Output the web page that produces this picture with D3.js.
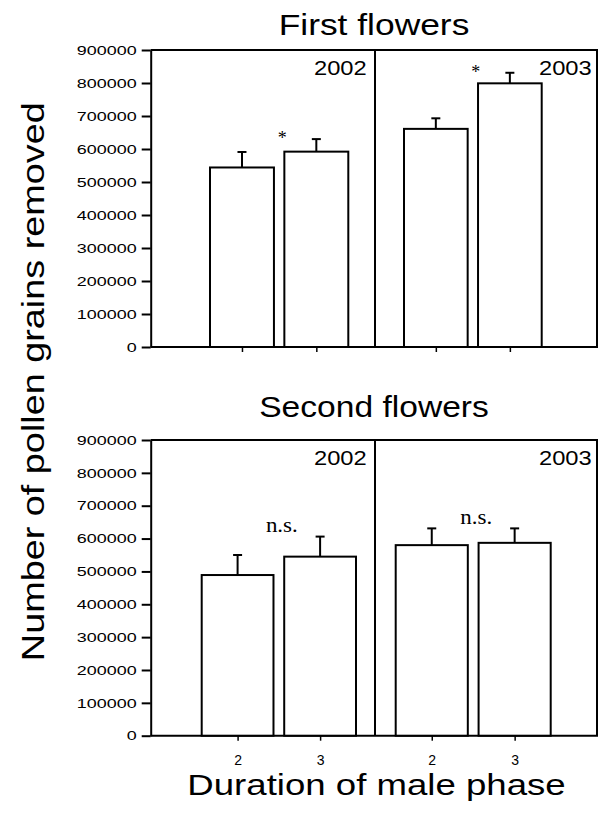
<!DOCTYPE html>
<html>
<head>
<meta charset="utf-8">
<script src="https://cdn.jsdelivr.net/npm/d3@7"></script>
<style>
  html, body { margin: 0; padding: 0; background: #fff; }
  svg { display: block; }
</style>
</head>
<body>
<svg id="chart" width="604" height="814"></svg>
<script>
// ---------------- data ----------------
const years = ["2002", "2003"];
const durations = ["2", "3"];
const yTickValues = [0, 100000, 200000, 300000, 400000, 500000, 600000, 700000, 800000, 900000];

// order: 2002-2, 2002-3, 2003-2, 2003-3
const firstMeans   = [544000, 592000, 661000, 799000];
const firstErrors  = [ 47000,  38000,  32000,  32000];
const firstSig     = ["*", "*"];

const secondMeans  = [489000, 545000, 580000, 587000];
const secondErrors = [ 61000,  61000,  51000,  44000];
const secondSig    = ["n.s.", "n.s."];

// ---------------- layout ----------------
const SANS = "'Liberation Sans', Arial, Helvetica, sans-serif";
const SERIF = "'Liberation Serif', 'Times New Roman', serif";
const svg = d3.select("#chart");

const axisX = 150.7, rightX = 597, sepX = 375;

const panels = [
  { title: "First flowers", titleY: 35, titleSx: 1.18, top: 50, bottom: 347,
    means: firstMeans, errors: firstErrors, sig: firstSig,
    ranges: { "2002": [210, 348.3], "2003": [404, 541.7] }, pad: 0.14,
    showXLabels: false },
  { title: "Second flowers", titleY: 417, titleSx: 1.12, top: 440, bottom: 735.7,
    means: secondMeans, errors: secondErrors, sig: secondSig,
    ranges: { "2002": [201.7, 356], "2003": [395.7, 550.7] }, pad: 0.13,
    showXLabels: true }
];

function stretchText(g, x, y, str, size, sx, anchor, family, rotate) {
  return g.append("text")
    .attr("transform", `translate(${x},${y})` + (rotate ? ` rotate(${rotate})` : "") + ` scale(${sx},1)`)
    .attr("text-anchor", anchor)
    .style("font-family", family)
    .style("font-size", size + "px")
    .attr("fill", "#000")
    .text(str);
}

panels.forEach(p => {
  const g = svg.append("g");
  const y = d3.scaleLinear().domain([0, 900000]).range([p.bottom, p.top]);

  const bands = {};
  years.forEach(yr => {
    bands[yr] = d3.scaleBand().domain(durations).range(p.ranges[yr]).paddingInner(p.pad).paddingOuter(0);
  });
  const rows = [];
  years.forEach((yr, i) => durations.forEach((du, j) => {
    const k = i * 2 + j;
    rows.push({ key: yr + "-" + du, year: yr, dur: du, mean: p.means[k], err: p.errors[k],
      x0: bands[yr](du), w: bands[yr].bandwidth() });
  }));
  rows.forEach(r => r.cx = r.x0 + r.w / 2);

  // title
  stretchText(g, 374, p.titleY, p.title, 30, p.titleSx, "middle", SANS);

  // frame
  const frame = g.append("g").attr("stroke", "#000").attr("stroke-width", 2).attr("fill", "none");
  frame.append("path").attr("d", `M${axisX},${p.top}H${rightX}V${y(0)}H${axisX}`);
  frame.append("line").attr("x1", sepX).attr("x2", sepX).attr("y1", p.top).attr("y2", y(0));

  // bars
  g.append("g").selectAll("rect").data(rows).join("rect")
    .attr("x", d => d.x0).attr("width", d => d.w)
    .attr("y", d => y(d.mean)).attr("height", d => y(0) - y(d.mean))
    .attr("fill", "#fff").attr("stroke", "#000").attr("stroke-width", 2);

  // error bars (upper only)
  const eb = g.append("g").attr("stroke", "#000").attr("stroke-width", 2);
  eb.selectAll("line.v").data(rows).join("line").attr("class", "v")
    .attr("x1", d => d.cx).attr("x2", d => d.cx)
    .attr("y1", d => y(d.mean)).attr("y2", d => y(d.mean + d.err));
  eb.selectAll("line.c").data(rows).join("line").attr("class", "c")
    .attr("x1", d => d.cx - 4.5).attr("x2", d => d.cx + 4.5)
    .attr("y1", d => y(d.mean + d.err)).attr("y2", d => y(d.mean + d.err));

  // y axis
  const yAxis = g.append("g").attr("transform", `translate(${axisX},0)`)
    .call(d3.axisLeft(y).tickValues(yTickValues).tickSize(9).tickSizeOuter(0).tickPadding(0).tickFormat(d3.format("d")));
  yAxis.select(".domain").attr("stroke-width", 2);
  yAxis.selectAll(".tick line").attr("stroke-width", 2);
  const sxTick = 1.38;
  yAxis.selectAll(".tick text")
    .style("font-family", SANS).style("font-size", "13px").attr("fill", "#000")
    .attr("x", -14 / sxTick)
    .attr("transform", `scale(${sxTick},1)`);

  // x axis (ticks at bar centres)
  const xPos = d3.scaleOrdinal().domain(rows.map(r => r.key)).range(rows.map(r => r.cx));
  const xAxis = g.append("g").attr("transform", `translate(0,${y(0)})`)
    .call(d3.axisBottom(xPos).tickValues(rows.map(r => r.key)).tickSize(5).tickPadding(14)
      .tickFormat(d => p.showXLabels ? d.split("-")[1] : ""));
  xAxis.select(".domain").remove();
  xAxis.selectAll(".tick line").attr("stroke-width", 1.5);
  xAxis.selectAll(".tick text").style("font-family", SANS).style("font-size", "14px").attr("fill", "#000");

  // year labels
  stretchText(g, 366.7, p.top + 25, years[0], 21, 1.13, "end", SANS);
  stretchText(g, 591.7, p.top + 25, years[1], 21, 1.13, "end", SANS);

  // significance labels
  years.forEach((yr, i) => {
    const a = rows[i * 2], b = rows[i * 2 + 1];
    const topY = y(Math.max(a.mean + a.err, b.mean + b.err));
    const cx = (a.x0 + a.w + b.x0) / 2 + 3;
    const label = p.sig[i];
    if (label === "*") {
      stretchText(g, cx, topY + 5, label, 18, 1, "middle", SERIF);
    } else {
      stretchText(g, cx, topY - 4.5, label, 20, 1.15, "middle", SERIF);
    }
  });
});

// axis titles
stretchText(svg, 43.5, 381.7, "Number of pollen grains removed", 31, 1.22, "middle", SANS, -90);
stretchText(svg, 376.5, 795, "Duration of male phase", 30, 1.22, "middle", SANS);
</script>
</body>
</html>
